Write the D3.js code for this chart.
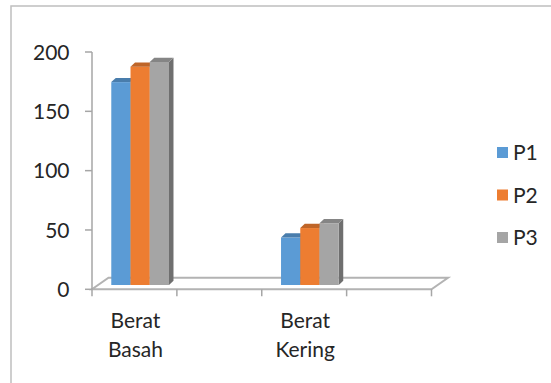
<!DOCTYPE html>
<html><head><meta charset="utf-8">
<script src="https://cdn.jsdelivr.net/npm/d3@7"></script>
<style>html,body{margin:0;padding:0;background:#fff;}svg{display:block;}</style>
</head><body>
<svg id="c" width="551" height="383"></svg>
<script>
const categories = ["Berat Basah", "", "Berat Kering", ""];
const seriesNames = ["P1", "P2", "P3"];
const P1 = [171, null, 40, null];
const P2 = [184, null, 48, null];
const P3 = [188, null, 52, null];
const yTicks = [0, 50, 100, 150, 200];
const colors = ["#5b9bd5", "#ed7d31", "#a5a5a5"];
const series = [P1, P2, P3];

const svg = d3.select("#c");
const font = "Lato, 'Open Sans', sans-serif";
const fs = 21;

// chart border
svg.append("rect").attr("x", 11).attr("y", 6).attr("width", 600).attr("height", 420)
  .attr("fill", "none").attr("stroke", "#bfbfbf").attr("stroke-width", 1.5);

const x0 = 92, x1 = 431.5;
const x = d3.scaleBand().domain(d3.range(categories.length)).range([x0, x1]);
const y = d3.scaleLinear().domain([0, 200]).range([289.3, 52]);

// floor depth
const fdx = 16.5, fdy = -11.5;
const fy = y(0);
svg.append("path")
  .attr("d", `M${x0},${fy}L${x1},${fy}L${x1 + fdx},${fy + fdy}L${x0 + fdx},${fy + fdy}Z`)
  .attr("fill", "#fff").attr("stroke", "#b3b3b3").attr("stroke-width", 2);

// y axis
const yAxis = svg.append("g");
yAxis.append("line").attr("x1", x0).attr("x2", x0).attr("y1", y(200)).attr("y2", y(0))
  .attr("stroke", "#a6a6a6").attr("stroke-width", 1.5);
yTicks.forEach(t => {
  yAxis.append("line").attr("x1", x0 - 7).attr("x2", x0).attr("y1", y(t)).attr("y2", y(t))
    .attr("stroke", "#a6a6a6").attr("stroke-width", 1.5);
  yAxis.append("text").attr("x", 69.5).attr("y", y(t)).attr("text-anchor", "end")
    .attr("dy", "0.36em").attr("font-family", font).attr("font-size", fs).attr("fill", "#262626")
    .text(t);
});

// category ticks
d3.range(categories.length + 1).forEach(i => {
  const xx = x0 + i * x.bandwidth();
  svg.append("line").attr("x1", xx).attr("x2", xx).attr("y1", fy).attr("y2", fy + 7)
    .attr("stroke", "#a6a6a6").attr("stroke-width", 1.5);
});

// category labels
categories.forEach((c, i) => {
  if (!c) return;
  const words = c.split(" ");
  const t = svg.append("text")
    .attr("text-anchor", "middle").attr("font-family", font).attr("font-size", fs).attr("fill", "#262626");
  words.forEach((w, k) => {
    t.append("tspan").attr("x", x(i) + x.bandwidth() / 2 + 1).attr("y", 328 + k * 29).text(w);
  });
});

// bars
const groupW = x.bandwidth() * 0.68;
const bw = groupW / 3;
const pdx = 5.7, pdy = -4.3; // position within floor depth
const bdx = 4.5, bdy = -4.2; // bar depth
categories.forEach((c, i) => {
  const gx = x(i) + (x.bandwidth() - groupW) / 2 + pdx;
  series.forEach((s, k) => {
    const v = s[i];
    if (v == null) return;
    const left = gx + k * bw, right = left + bw;
    const top = y(v) + pdy, bot = y(0) + pdy;
    const col = d3.color(colors[k]);
    svg.append("path")
      .attr("d", `M${right},${bot}L${right + bdx},${bot + bdy}L${right + bdx},${top + bdy}L${right},${top}Z`)
      .attr("fill", col.darker(1.1));
    svg.append("rect").attr("x", left).attr("y", top).attr("width", bw).attr("height", bot - top)
      .attr("fill", colors[k]);
    svg.append("path")
      .attr("d", `M${left},${top}L${left + bdx},${top + bdy}L${right + bdx},${top + bdy}L${right},${top}Z`)
      .attr("fill", col.darker(0.6));
  });
});

// legend
const ly = [152.5, 195, 237.5];
seriesNames.forEach((n, k) => {
  svg.append("rect").attr("x", 497).attr("y", ly[k] - 5.5).attr("width", 11).attr("height", 11)
    .attr("fill", colors[k]);
  svg.append("text").attr("x", 513).attr("y", ly[k]).attr("dy", "0.36em")
    .attr("font-family", font).attr("font-size", fs).attr("fill", "#262626").text(n);
});
</script>
</body></html>
